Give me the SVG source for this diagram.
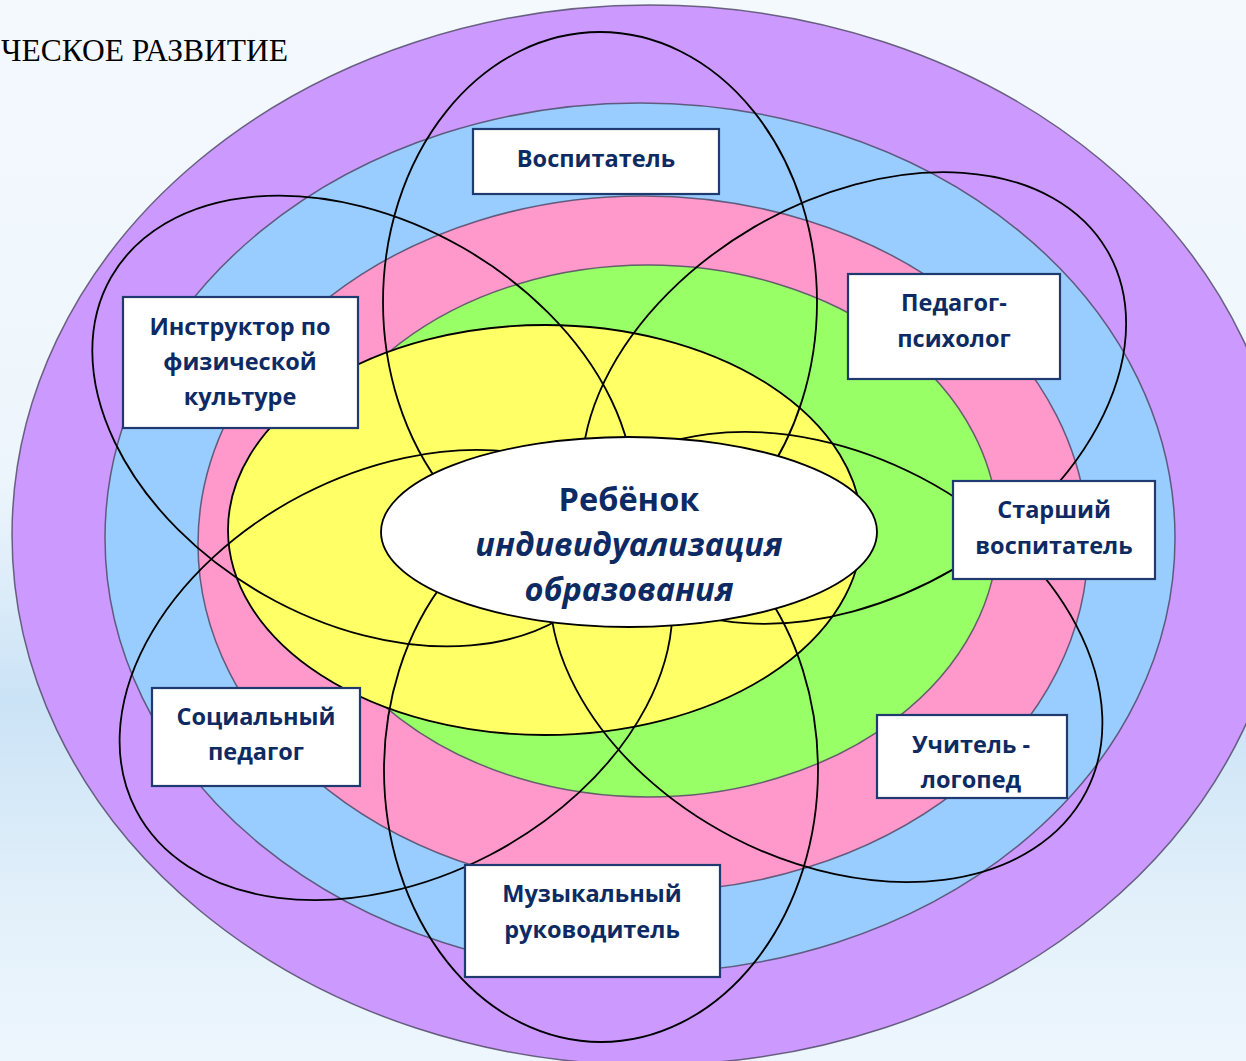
<svg xmlns="http://www.w3.org/2000/svg" width="1246" height="1061" viewBox="0 0 1246 1061">
<defs>
<linearGradient id="bg" x1="0" y1="0" x2="0" y2="1">
<stop offset="0" stop-color="#f4f9fe"/>
<stop offset="0.45" stop-color="#edf5fc"/>
<stop offset="0.66" stop-color="#cbe3f6"/>
<stop offset="0.85" stop-color="#e2f0fa"/>
<stop offset="1" stop-color="#eef6fd"/>
</linearGradient>
<style>
.ring{stroke:#4a4560;stroke-width:1.5;stroke-opacity:.8}
.petal{fill:none;stroke:#000;stroke-width:1.8}
.box{fill:#fff;stroke:#1f3a6e;stroke-width:2.2}
.lbl{font-family:"Open Sans","Liberation Sans",sans-serif;font-weight:700;font-size:23.5px;fill:#0e2a63;text-anchor:middle}
.ctr{font-family:"Open Sans","Liberation Sans",sans-serif;font-weight:700;font-size:32.5px;fill:#0e2a63;text-anchor:middle}
</style>
</defs>
<rect width="1246" height="1061" fill="url(#bg)"/>
<text x="1" y="61" font-family="Liberation Serif, serif" font-size="31.5" fill="#000">ЧЕСКОЕ РАЗВИТИЕ</text>
<g id="rings">
<ellipse class="ring" cx="650" cy="535" rx="638" ry="530" fill="#cc99ff"/>
<ellipse class="ring" cx="640" cy="538" rx="535" ry="435" fill="#99ccff"/>
<ellipse class="ring" cx="643" cy="544" rx="445" ry="348" fill="#ff99cc"/>
<ellipse class="ring" cx="648" cy="531" rx="350" ry="266" fill="#99ff66"/>
<ellipse cx="545" cy="530" rx="317" ry="205" fill="#ffff66" stroke="#000" stroke-width="1.8"/>
</g>
<g id="connectors">
<ellipse class="petal" cx="600" cy="302" rx="217" ry="270"/>
<ellipse class="petal" cx="601" cy="770" rx="217" ry="272"/>
<ellipse class="petal" cx="854" cy="398" rx="293" ry="198" transform="rotate(-30.2 854 398)"/>
<ellipse class="petal" cx="826" cy="657" rx="293" ry="203" transform="rotate(27.4 826 657)"/>
<ellipse class="petal" cx="396" cy="675" rx="293" ry="203" transform="rotate(-27.4 396 675)"/>
<ellipse class="petal" cx="363" cy="421" rx="290" ry="200" transform="rotate(29.7 363 421)"/>
</g>
<g id="center">
<ellipse cx="629" cy="532" rx="248" ry="95" fill="#fff" stroke="#000" stroke-width="1.8"/>
<text class="ctr" x="629" y="511">Ребёнок</text>
<text class="ctr" x="629" y="556" font-style="italic">индивидуализация</text>
<text class="ctr" x="629" y="601" font-style="italic">образования</text>
</g>
<g id="vospitatel">
<rect class="box" x="473" y="129" width="246" height="65"/>
<text class="lbl" x="596" y="167">Воспитатель</text>
</g>
<g id="psiholog">
<rect class="box" x="848" y="274" width="212" height="105"/>
<text class="lbl" x="954" y="311">Педагог-</text>
<text class="lbl" x="954" y="347">психолог</text>
</g>
<g id="instruktor">
<rect class="box" x="123" y="297" width="235" height="131"/>
<text class="lbl" x="240" y="335">Инструктор по</text>
<text class="lbl" x="240" y="370">физической</text>
<text class="lbl" x="240" y="405">культуре</text>
</g>
<g id="starshiy">
<rect class="box" x="953" y="481" width="202" height="98"/>
<text class="lbl" x="1054" y="518">Старший</text>
<text class="lbl" x="1054" y="554">воспитатель</text>
</g>
<g id="logoped">
<rect class="box" x="877" y="715" width="190" height="83"/>
<text class="lbl" x="971" y="753">Учитель -</text>
<text class="lbl" x="971" y="788">логопед</text>
</g>
<g id="socped">
<rect class="box" x="152" y="688" width="208" height="98"/>
<text class="lbl" x="256" y="725">Социальный</text>
<text class="lbl" x="256" y="760">педагог</text>
</g>
<g id="muzruk">
<rect class="box" x="465" y="865" width="255" height="112"/>
<text class="lbl" x="592" y="902">Музыкальный</text>
<text class="lbl" x="592" y="938">руководитель</text>
</g>
</svg>
